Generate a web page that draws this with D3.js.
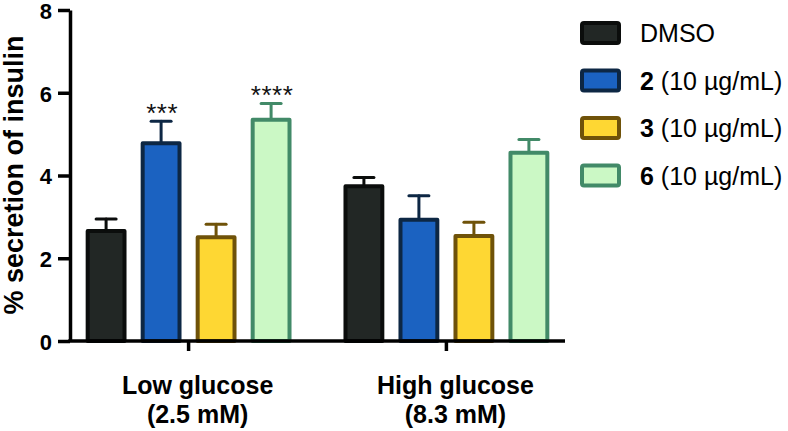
<!DOCTYPE html>
<html>
<head>
<meta charset="utf-8">
<script src="https://cdn.jsdelivr.net/npm/d3@7"></script>
<style>
  body { margin: 0; background: #fff; }
  svg { display: block; font-family: "Liberation Sans", Arial, Helvetica, sans-serif; }
</style>
</head>
<body>
<svg id="chart" width="788" height="431"></svg>
<script>
// data
var groupLabels = [["Low glucose", "(2.5 mM)"], ["High glucose", "(8.3 mM)"]];
var seriesNames = ["DMSO", "2", "3", "6"];
var seriesSuffix = ["", " (10 µg/mL)", " (10 µg/mL)", " (10 µg/mL)"];
var dmsoValues = [2.66, 3.74];
var cmpd2Values = [4.78, 2.93];
var cmpd3Values = [2.51, 2.54];
var cmpd6Values = [5.35, 4.55];
var dmsoErr = [0.29, 0.21];
var cmpd2Err = [0.53, 0.58];
var cmpd3Err = [0.31, 0.33];
var cmpd6Err = [0.39, 0.32];
var cmpd2Stars = ["***", ""];
var cmpd6Stars = ["****", ""];
var yTicks = [0, 2, 4, 6, 8];

var fills = ["#222725", "#1b62c1", "#fed733", "#cbf8c5"];
var strokes = ["#0b0d0c", "#0d2744", "#6f5209", "#428a68"];

var allValues = [dmsoValues, cmpd2Values, cmpd3Values, cmpd6Values];
var allErr = [dmsoErr, cmpd2Err, cmpd3Err, cmpd6Err];
var allStars = [["", ""], cmpd2Stars, ["", ""], cmpd6Stars];

(function() {
    var svg = d3.select("#chart");

    var plotLeft = 70, plotRight = 565, plotBottom = 341, plotTop = 10;

    var y = d3.scaleLinear().domain([0, 8]).range([plotBottom, plotTop]);
    var x0 = d3.scalePoint().domain(d3.range(groupLabels.length)).range([plotLeft, plotRight]).padding(0.46);
    var x1 = d3.scaleBand().domain(d3.range(seriesNames.length)).range([-110, 110])
        .paddingInner(0.33).paddingOuter(0.165);

    var bars = [];
    groupLabels.forEach(function(g, gi) {
        seriesNames.forEach(function(s, si) {
            bars.push({g: gi, s: si, v: allValues[si][gi], e: allErr[si][gi], star: allStars[si][gi]});
        });
    });

    // bars
    var barG = svg.append("g");
    barG.selectAll("rect").data(bars).enter().append("rect")
        .attr("x", function(d) { return x0(d.g) + x1(d.s); })
        .attr("y", function(d) { return y(d.v); })
        .attr("width", x1.bandwidth())
        .attr("height", function(d) { return y(0) - y(d.v); })
        .attr("fill", function(d) { return fills[d.s]; })
        .attr("stroke", function(d) { return strokes[d.s]; })
        .attr("stroke-width", 4)
        .attr("stroke-linejoin", "round");

    // error bars (upper only) + significance stars
    var errG = svg.append("g");
    bars.forEach(function(d) {
        var cx = x0(d.g) + x1(d.s) + x1.bandwidth() / 2;
        var g = errG.append("g").attr("stroke", strokes[d.s]).attr("stroke-width", 3).attr("stroke-linecap", "round");
        g.append("line").attr("x1", cx).attr("x2", cx).attr("y1", y(d.v) - 2).attr("y2", y(d.v + d.e));
        g.append("line").attr("x1", cx - 10).attr("x2", cx + 10).attr("y1", y(d.v + d.e)).attr("y2", y(d.v + d.e));
        if (d.star) {
            svg.append("text")
                .attr("x", cx + 1)
                .attr("y", y(d.v + d.e) + 0.5)
                .attr("text-anchor", "middle")
                .attr("font-size", 26)
                .attr("letter-spacing", 0.5)
                .attr("fill", "#111")
                .text(d.star);
        }
    });

    // y axis
    var yAxis = svg.append("g")
        .attr("transform", "translate(" + plotLeft + ",0)")
        .call(d3.axisLeft(y).tickValues(yTicks).tickSize(12).tickSizeOuter(0).tickPadding(6));
    yAxis.select(".domain").attr("stroke", "#000").attr("stroke-width", 3.5);
    yAxis.selectAll(".tick line").attr("stroke", "#000").attr("stroke-width", 3.5);
    yAxis.selectAll(".tick text")
        .attr("font-family", "'Liberation Sans', Arial, sans-serif")
        .attr("dy", "0.38em")
        .attr("font-size", 22).attr("font-weight", "bold").attr("fill", "#000");

    // x axis
    svg.append("line")
        .attr("x1", plotLeft - 1.75).attr("x2", plotRight)
        .attr("y1", plotBottom).attr("y2", plotBottom)
        .attr("stroke", "#000").attr("stroke-width", 3.5);
    svg.selectAll(".xtick").data(groupLabels).enter().append("line")
        .attr("class", "xtick")
        .attr("x1", function(d, i) { return x0(i); })
        .attr("x2", function(d, i) { return x0(i); })
        .attr("y1", plotBottom).attr("y2", plotBottom + 10)
        .attr("stroke", "#000").attr("stroke-width", 3.5);

    var xl = svg.selectAll(".xlab").data(groupLabels).enter().append("text")
        .attr("class", "xlab")
        .attr("text-anchor", "middle")
        .attr("font-size", 25).attr("font-weight", "bold").attr("fill", "#000");
    xl.each(function(d, i) {
        var t = d3.select(this);
        d.forEach(function(line, li) {
            t.append("tspan").attr("x", x0(i) + 9).attr("y", 394 + li * 29).text(line);
        });
    });

    // y title
    svg.append("text")
        .attr("transform", "translate(23,175) rotate(-90)")
        .attr("text-anchor", "middle")
        .attr("font-size", 27).attr("font-weight", "bold").attr("fill", "#000")
        .text("% secretion of insulin");

    // legend
    var legend = svg.append("g").attr("transform", "translate(582,0)");
    var items = legend.selectAll("g").data(seriesNames).enter().append("g")
        .attr("transform", function(d, i) { return "translate(0," + (33 + i * 47.5) + ")"; });
    items.append("rect")
        .attr("x", 0).attr("y", -10).attr("width", 37).attr("height", 20).attr("rx", 2)
        .attr("fill", function(d, i) { return fills[i]; })
        .attr("stroke", function(d, i) { return strokes[i]; })
        .attr("stroke-width", 4);
    var lt = items.append("text")
        .attr("x", 58).attr("y", 9)
        .attr("font-size", 25).attr("fill", "#000");
    lt.append("tspan")
        .attr("font-weight", function(d, i) { return i === 0 ? "normal" : "bold"; })
        .text(function(d) { return d; });
    lt.append("tspan").text(function(d, i) { return seriesSuffix[i]; });
})();
</script>
</body>
</html>
